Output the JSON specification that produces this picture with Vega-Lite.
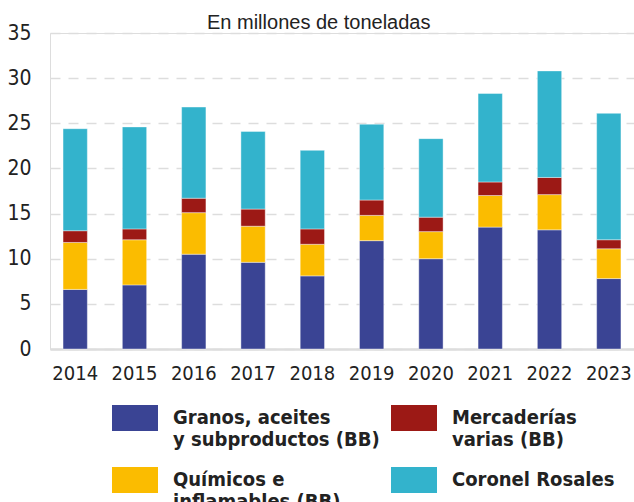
{
  "$schema": "https://vega.github.io/schema/vega-lite/v6.json",
  "width": 584,
  "height": 316,
  "autosize": {"type": "none"},
  "padding": {"left": 50, "top": 33, "right": 0, "bottom": 153},
  "background": "#ffffff",
  "title": {
    "text": "En millones de toneladas",
    "font": "Liberation Sans",
    "fontSize": 20,
    "fontWeight": "normal",
    "color": "#222222",
    "anchor": "start",
    "frame": "group",
    "dx": 157,
    "dy": 16,
    "offset": 5
  },
  "data": {
    "values": [
      {"anio": "2014", "cat": "Granos", "valor": 6.6},
      {"anio": "2014", "cat": "Químicos", "valor": 5.2},
      {"anio": "2014", "cat": "Mercaderías", "valor": 1.3},
      {"anio": "2014", "cat": "Coronel Rosales", "valor": 11.3},
      {"anio": "2015", "cat": "Granos", "valor": 7.1},
      {"anio": "2015", "cat": "Químicos", "valor": 5.0},
      {"anio": "2015", "cat": "Mercaderías", "valor": 1.2},
      {"anio": "2015", "cat": "Coronel Rosales", "valor": 11.3},
      {"anio": "2016", "cat": "Granos", "valor": 10.5},
      {"anio": "2016", "cat": "Químicos", "valor": 4.6},
      {"anio": "2016", "cat": "Mercaderías", "valor": 1.6},
      {"anio": "2016", "cat": "Coronel Rosales", "valor": 10.1},
      {"anio": "2017", "cat": "Granos", "valor": 9.6},
      {"anio": "2017", "cat": "Químicos", "valor": 4.0},
      {"anio": "2017", "cat": "Mercaderías", "valor": 1.9},
      {"anio": "2017", "cat": "Coronel Rosales", "valor": 8.6},
      {"anio": "2018", "cat": "Granos", "valor": 8.1},
      {"anio": "2018", "cat": "Químicos", "valor": 3.5},
      {"anio": "2018", "cat": "Mercaderías", "valor": 1.7},
      {"anio": "2018", "cat": "Coronel Rosales", "valor": 8.7},
      {"anio": "2019", "cat": "Granos", "valor": 12.0},
      {"anio": "2019", "cat": "Químicos", "valor": 2.8},
      {"anio": "2019", "cat": "Mercaderías", "valor": 1.7},
      {"anio": "2019", "cat": "Coronel Rosales", "valor": 8.4},
      {"anio": "2020", "cat": "Granos", "valor": 10.0},
      {"anio": "2020", "cat": "Químicos", "valor": 3.0},
      {"anio": "2020", "cat": "Mercaderías", "valor": 1.6},
      {"anio": "2020", "cat": "Coronel Rosales", "valor": 8.7},
      {"anio": "2021", "cat": "Granos", "valor": 13.5},
      {"anio": "2021", "cat": "Químicos", "valor": 3.5},
      {"anio": "2021", "cat": "Mercaderías", "valor": 1.5},
      {"anio": "2021", "cat": "Coronel Rosales", "valor": 9.8},
      {"anio": "2022", "cat": "Granos", "valor": 13.2},
      {"anio": "2022", "cat": "Químicos", "valor": 3.9},
      {"anio": "2022", "cat": "Mercaderías", "valor": 1.9},
      {"anio": "2022", "cat": "Coronel Rosales", "valor": 11.8},
      {"anio": "2023", "cat": "Granos", "valor": 7.8},
      {"anio": "2023", "cat": "Químicos", "valor": 3.3},
      {"anio": "2023", "cat": "Mercaderías", "valor": 1.0},
      {"anio": "2023", "cat": "Coronel Rosales", "valor": 14.0}
    ]
  },
  "transform": [
    {"calculate": "indexof(['Granos','Químicos','Mercaderías','Coronel Rosales'], datum.cat)", "as": "orden"}
  ],
  "mark": {"type": "bar", "stroke": "#ffffff", "strokeWidth": 0.8, "strokeOpacity": 0.5},
  "encoding": {
    "x": {
      "field": "anio",
      "type": "nominal",
      "scale": {"paddingInner": 0.59, "paddingOuter": 0.22},
      "axis": {
        "title": null,
        "labelAngle": 0,
        "labelFont": "DejaVu Sans Condensed, Roboto, sans-serif",
        "labelFontSize": 20,
        "labelColor": "#222222",
        "labelPadding": 14,
        "ticks": false,
        "domainColor": "#dddddd",
        "domainWidth": 2.5,
        "grid": false
      }
    },
    "y": {
      "field": "valor",
      "type": "quantitative",
      "aggregate": "sum",
      "stack": "zero",
      "scale": {"domain": [0, 35], "nice": false},
      "axis": {
        "title": null,
        "values": [0, 5, 10, 15, 20, 25, 30, 35],
        "labelFont": "DejaVu Sans Condensed, Roboto, sans-serif",
        "labelFontSize": 21,
        "labelColor": "#222222",
        "labelPadding": 19,
        "ticks": false,
        "domain": false,
        "grid": true,
        "gridColor": "#dddddd",
        "gridWidth": 1.5,
        "gridDash": [10, 8]
      }
    },
    "color": {
      "field": "cat",
      "type": "nominal",
      "scale": {
        "domain": ["Granos", "Químicos", "Mercaderías", "Coronel Rosales"],
        "range": ["#3a4494", "#fbbc00", "#9c1915", "#33b3cc"]
      },
      "legend": {
        "title": null,
        "orient": "none",
        "legendX": 62,
        "legendY": 362,
        "columns": 2,
        "columnPadding": 11,
        "rowPadding": 7,
        "padding": 0,
        "symbolType": "M-1,-0.565L1,-0.565L1,0.565L-1,0.565Z",
        "symbolSize": 2116,
        "symbolStrokeWidth": 0,
        "symbolOpacity": 1,
        "labelOffset": 15,
        "labelFont": "DejaVu Sans Condensed, Roboto, sans-serif",
        "labelFontWeight": "bold",
        "labelFontSize": 20,
        "labelLineHeight": 22,
        "labelColor": "#222222",
        "labelLimit": 300,
        "labelExpr": "datum.label == 'Granos' ? ['Granos, aceites', 'y subproductos (BB)'] : datum.label == 'Mercaderías' ? ['Mercaderías', 'varias (BB)'] : datum.label == 'Químicos' ? ['Químicos e', 'inflamables (BB)'] : datum.label"
      }
    },
    "order": {"field": "orden", "type": "quantitative", "sort": "ascending"}
  }
}
